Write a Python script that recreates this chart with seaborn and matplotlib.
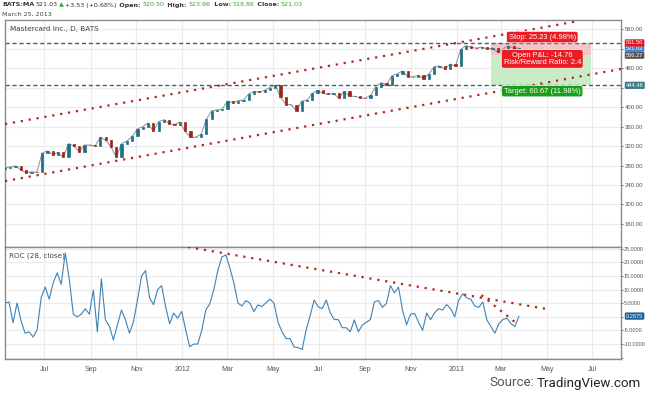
import numpy as np
import pandas as pd
import matplotlib
matplotlib.use("Agg")
import matplotlib.pyplot as plt
import matplotlib.transforms as mtransforms
import seaborn as sns

sns.set_theme(style="white")
plt.rcParams["font.family"] = ["DejaVu Sans"]

# ---------------- data ----------------
price_start, price_end = "2011-05-10", "2013-03-25"
first_open = 273.0
closes = [275, 277, 279, 271, 265, 267, 266, 305, 310, 302,
          307, 297, 325, 320, 308, 322, 322, 320, 338, 332,
          318, 297, 325, 330, 340, 355, 360, 367, 350, 370,
          374, 366, 364, 369, 350, 338, 338, 344, 375, 392,
          394, 396, 412, 409, 413, 414, 427, 432, 431, 434,
          440, 445, 420, 405, 405, 392, 412, 414, 428, 434,
          428, 426, 428, 418, 432, 422, 422, 419, 418, 424,
          442, 450, 446, 464, 468, 474, 462, 462, 465, 458,
          468, 483, 484, 478, 488, 484, 518, 526, 522, 521,
          523, 519, 521, 512, 519, 526, 520, 521.03]

roc_values = [5.1, 5.5, -2.2, 5.1, -1.5, -6.0, -5.5, -7.4, -4.8, 7.0,
              11.0, 6.5, 12.5, 16.2, 12.0, 23.5, 14.0, 1.0, 0.0, 1.0,
              3.0, 1.0, 9.9, -5.5, 14.0, -1.1, -3.5, -8.5, -3.0, 2.5,
              -1.1, -6.0, -1.8, 6.2, 15.0, 17.0, 7.0, 4.5, 10.0, 11.5,
              3.7, -2.5, 1.4, -0.5, 2.0, -4.8, -11.0, -10.0, -10.0, -5.0,
              2.5, 4.8, 10.0, 17.0, 22.0, 22.8, 18.0, 12.5, 5.1, 4.0,
              6.0, 5.0, 2.0, 4.4, 3.8, 5.2, 6.5, 5.0, -2.0, -5.5,
              -8.0, -8.0, -11.1, -11.3, -12.0, -4.8, 0.5, 6.2, 3.7, 3.0,
              6.2, 1.5, -1.0, -1.0, -4.0, -4.0, -5.5, -1.1, -5.5, -3.0,
              -2.0, -1.0, 5.5, 6.0, 3.5, 5.0, 11.5, 8.8, 11.0, 2.5,
              -2.9, 1.0, 1.3, -2.0, -5.0, 1.4, -1.0, 1.5, 3.0, 2.5,
              4.5, 3.0, 0.0, 6.2, 8.5, 7.0, 6.5, 4.0, 3.5, 5.5,
              -1.1, -3.5, -6.0, -2.5, -1.0, -0.5, -2.5, -3.5, 0.29]

entry_price = 506.27
stop_price = 531.50
target_price = 445.60
last_price = 521.03
support_level = 444.48
rr_box_dates = ["2013-02-16", "2013-06-29"]
label_date = "2013-04-25"
stop_text = "Stop: 25.23 (4.98%)"
pnl_text = "Open P&L: -14.76\nRisk/Reward Ratio: 2.4"
target_text = "Target: 60.67 (11.98%)"

upper_channel_dates = ["2011-05-10", "2013-06-11"]
upper_channel_vals = [365, 576]
lower_channel_dates = ["2011-05-10", "2013-08-08"]
lower_channel_vals = [248, 478]
roc_trend1_dates = ["2012-01-09", "2013-05-01"]
roc_trend1_vals = [25.7, 2.9]
roc_trend2_dates = ["2013-02-03", "2013-03-19"]
roc_trend2_vals = [8.0, -1.8]

price_grid = [160, 200, 240, 280, 320, 360, 400, 440, 480, 520, 560]
price_hidden = [440, 520]
roc_grid = [-15, -10, -5, 0, 5, 10, 15, 20, 25]
roc_hidden = [-15, 0]
month_ticks = ["2011-07-01", "2011-09-01", "2011-11-01", "2012-01-01", "2012-03-01",
               "2012-05-01", "2012-07-01", "2012-09-01", "2012-11-01", "2013-01-01",
               "2013-03-01", "2013-05-01", "2013-07-01"]
month_labels = ["Jul", "Sep", "Nov", "2012", "Mar", "May", "Jul", "Sep", "Nov",
                "2013", "Mar", "May", "Jul"]
x_range = ["2011-05-10", "2013-08-08"]
price_range = (112.8, 578.5)
roc_range = (-15.5, 25.7)

# ---------------- frames ----------------
dates = pd.date_range(price_start, price_end, periods=len(closes))
opens = [first_open] + closes[:-1]
pdf = pd.DataFrame({"date": dates, "open": opens, "close": closes})
pdf["up"] = pdf["close"] >= pdf["open"]
roc_df = pd.DataFrame({"date": pd.date_range(price_start, price_end, periods=len(roc_values)),
                       "roc": roc_values})

W, H = 645, 397
fig = plt.figure(figsize=(W / 100, H / 100), dpi=100)
fig.patch.set_facecolor("white")
RIGHT = 621
ax1 = fig.add_axes([5 / W, 1 - 247 / H, (RIGHT - 5) / W, 227 / H])
ax2 = fig.add_axes([5 / W, 1 - 359 / H, (RIGHT - 5) / W, 112 / H], sharex=ax1)

grid_c = "#ebebeb"
spine_c = "#8a8a8a"
tick_c = "#555555"
small_font = ["Liberation Sans", "DejaVu Sans"]
mt = pd.to_datetime(month_ticks)

for ax in (ax1, ax2):
    ax.set_facecolor("white")
    for s in ax.spines.values():
        s.set_color(spine_c)
        s.set_linewidth(1.0)
    for d in mt:
        ax.axvline(d, color=grid_c, lw=0.8, zorder=0)

# ---------- price panel ----------
for v in price_grid:
    ax1.axhline(v, color=grid_c, lw=0.8, zorder=0)

x0, x1 = pd.to_datetime(rr_box_dates)
ax1.fill_between([x0, x1], entry_price, stop_price, color="#f6c4c4", lw=0, zorder=1)
ax1.fill_between([x0, x1], target_price, entry_price, color="#c9ecc6", lw=0, zorder=1)

ax1.axhline(stop_price, color="#2b6c7c", lw=1.0, ls=(0, (3, 2)), zorder=2)
ax1.axhline(support_level, color="#2b6c7c", lw=1.0, ls=(0, (3, 2)), zorder=2)

ax1.plot(pd.to_datetime(upper_channel_dates), upper_channel_vals, color="#b8241c",
         lw=1.6, ls=(0, (1, 2.6)), zorder=3)
ax1.plot(pd.to_datetime(lower_channel_dates), lower_channel_vals, color="#b8241c",
         lw=1.6, ls=(0, (1, 2.6)), zorder=3)

sns.lineplot(data=pdf, x="date", y="close", ax=ax1, color="#8f8f8f", lw=0.7, zorder=3)
colors = np.where(pdf["up"], "#1f6f86", "#9c2419")
ax1.bar(pdf["date"], pdf["close"] - pdf["open"], bottom=pdf["open"], width=3.0,
        color=colors, edgecolor=colors, linewidth=0.5, zorder=4)

ax1.set_xlim(pd.to_datetime(x_range[0]), pd.to_datetime(x_range[1]))
ax1.set_ylim(*price_range)
ax1.yaxis.tick_right()
ax1.set_yticks(price_grid)
ax1.set_yticklabels(["" if v in price_hidden else f"{v:.2f}" for v in price_grid],
                    family=small_font)
ax1.tick_params(axis="y", labelsize=4.3, colors=tick_c, length=1.5, pad=1.0, width=0.6)
ax1.tick_params(axis="x", bottom=False, labelbottom=False)
ax1.set_xlabel("")
ax1.set_ylabel("")

lbl_dt = pd.to_datetime(label_date)
box_kw = dict(fontsize=5.4, color="white", ha="center", va="center", zorder=6,
              linespacing=1.05, family=small_font)
ax1.text(lbl_dt, stop_price + 12, stop_text,
         bbox=dict(boxstyle="round,pad=0.3", fc="#ec1c24", ec="white", lw=0.5), **box_kw)
ax1.text(lbl_dt, entry_price - 7.5, pnl_text,
         bbox=dict(boxstyle="round,pad=0.3", fc="#ec1c24", ec="white", lw=0.5), **box_kw)
ax1.text(lbl_dt, target_price - 13, target_text,
         bbox=dict(boxstyle="round,pad=0.3", fc="#1a9e1a", ec="white", lw=0.5), **box_kw)

tr1 = mtransforms.blended_transform_factory(ax1.transAxes, ax1.transData)
for val, fc in [(last_price, "#3d86d1"), (entry_price, "#555555"),
                (stop_price, "#e8141c"), (support_level, "#3d7b88")]:
    ax1.text(1.008, val, f"{val:.2f}", transform=tr1, fontsize=4.1, color="white",
             ha="left", va="center", clip_on=False, zorder=7, family=small_font,
             bbox=dict(boxstyle="round,pad=0.2", fc=fc, ec="none"))

ax1.text(0.008, 0.975, "Mastercard Inc., D, BATS", transform=ax1.transAxes,
         fontsize=5.2, color="#444444", ha="left", va="top")

# ---------- ROC panel ----------
for v in roc_grid:
    ax2.axhline(v, color=grid_c, lw=0.8, zorder=0)
ax2.plot(pd.to_datetime(roc_trend1_dates), roc_trend1_vals, color="#b8241c",
         lw=1.6, ls=(0, (1, 2.6)), zorder=3)
ax2.plot(pd.to_datetime(roc_trend2_dates), roc_trend2_vals, color="#b8241c",
         lw=1.6, ls=(0, (1, 2.6)), zorder=3)
sns.lineplot(data=roc_df, x="date", y="roc", ax=ax2, color="#3f82b4", lw=0.8, zorder=4)

ax2.set_ylim(*roc_range)
ax2.yaxis.tick_right()
ax2.set_yticks(roc_grid)
ax2.set_yticklabels(["" if v in roc_hidden else f"{v:.4f}" for v in roc_grid],
                    family=small_font)
ax2.tick_params(axis="y", labelsize=3.9, colors=tick_c, length=1.2, pad=0.8, width=0.6)
ax2.set_xticks(mt)
ax2.set_xticklabels(month_labels, family=small_font)
ax2.tick_params(axis="x", labelsize=5, colors=tick_c, length=0, pad=5)
ax2.set_xlabel("")
ax2.set_ylabel("")
tr2 = mtransforms.blended_transform_factory(ax2.transAxes, ax2.transData)
ax2.text(1.008, roc_values[-1], "0.2875", transform=tr2, fontsize=4.1, color="white",
         ha="left", va="center", clip_on=False, zorder=7, family=small_font,
         bbox=dict(boxstyle="round,pad=0.2", fc="#1f5f93", ec="none"))
ax2.text(0.006, 0.95, "ROC (28, close)", transform=ax2.transAxes,
         fontsize=5.2, color="#444444", ha="left", va="top")

# ---------- header / footer ----------
renderer = fig.canvas.get_renderer()


def text_run(x_px, y_px, pieces, size):
    x = x_px
    for s, color, weight in pieces:
        t = fig.text(x / W, 1 - y_px / H, s, color=color, fontsize=size,
                     fontweight=weight, ha="left", va="center")
        x += t.get_window_extent(renderer).width + 1.2


dark, green = "#333333", "#2fa82f"
text_run(2, 5, [("BATS:MA", dark, "bold"), ("521.03", dark, "normal"),
                ("▲", green, "normal"), ("+3.53 (+0.68%)", dark, "normal"),
                (" Open:", dark, "bold"), ("520.50", green, "normal"),
                (" High:", dark, "bold"), ("523.96", green, "normal"),
                (" Low:", dark, "bold"), ("518.88", green, "normal"),
                (" Close:", dark, "bold"), ("521.03", green, "normal")], 4.6)
fig.text(2 / W, 1 - 14 / H, "March 25, 2013", fontsize=4.6, color="#444444",
         ha="left", va="center")

src_font = ["Roboto", "DejaVu Sans"]
t2 = fig.text(641 / W, 1 - 383 / H, "TradingView.com", fontsize=9.6, color="#222222",
              ha="right", va="center", family=src_font)
w2 = t2.get_window_extent(renderer).width
fig.text((641 - w2 - 2) / W, 1 - 383 / H, "Source:", fontsize=9.6, color="#555555",
         ha="right", va="center", family=src_font)

fig.savefig("out.png", dpi=100, facecolor="white")
